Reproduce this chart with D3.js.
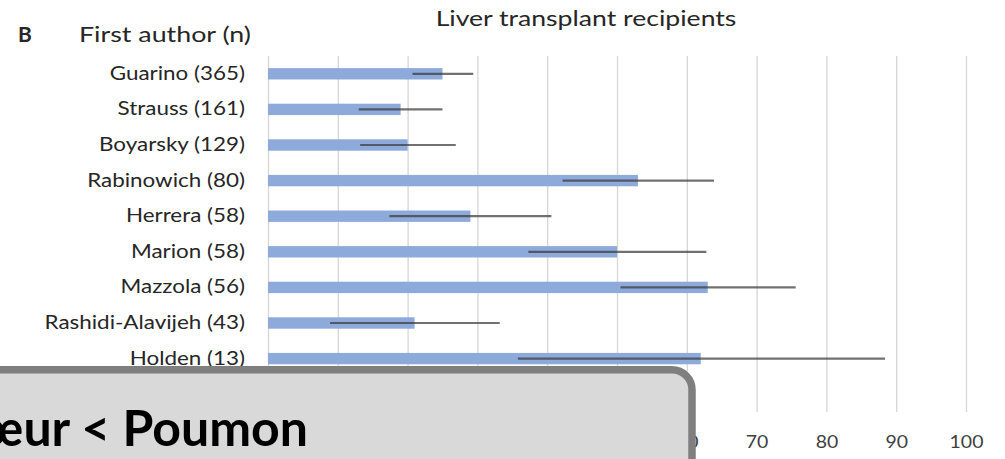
<!DOCTYPE html>
<html>
<head>
<meta charset="utf-8">
<script src="https://cdn.jsdelivr.net/npm/d3@7"></script>
<style>
  html, body { margin: 0; padding: 0; background: #fff; }
  svg { display: block; }
  text { font-family: Lato, "Noto Sans", sans-serif; }
</style>
</head>
<body>
<svg id="chart" width="1005" height="459"></svg>
<script>
// Studies of liver transplant recipients, first author with cohort size
const authors = [
  "Guarino (365)", "Strauss (161)", "Boyarsky (129)", "Rabinowich (80)",
  "Herrera (58)", "Marion (58)", "Mazzola (56)", "Rashidi-Alavijeh (43)", "Holden (13)"
];
// Point estimate (%) and its confidence interval
const estimate = [25, 19, 20, 53, 29, 50, 63, 21, 62];
const ciLow    = [20.7, 13.0, 13.2, 42.2, 17.4, 37.3, 50.5, 8.9, 35.8];
const ciHigh   = [29.4, 25.0, 26.9, 63.9, 40.6, 62.8, 75.6, 33.2, 88.4];
const xTicks   = [0, 10, 20, 30, 40, 50, 60, 70, 80, 90, 100];

const svg = d3.select("#chart");
const plot = { left: 268, right: 966, top: 56, bottom: 412 };

// widen glyphs horizontally around their anchor point
const widen = (sel, k) => sel.attr("transform", `scale(${k},1)`);
const label = (px, py, k, txt) => svg.append("text")
  .attr("transform", `translate(${px},${py}) scale(${k},1)`)
  .text(txt);

const x = d3.scaleLinear().domain([0, 100]).range([plot.left, plot.right]);
// one spare slot below the last study keeps the category spacing
const y = d3.scaleBand()
  .domain(authors.concat([""]))
  .range([plot.top, plot.bottom])
  .paddingInner(0.68)
  .paddingOuter(0.34);

const rows = authors.map((a, i) => ({ a, v: estimate[i], lo: ciLow[i], hi: ciHigh[i] }));

// vertical gridlines
svg.append("g")
  .attr("transform", `translate(0,${plot.bottom})`)
  .call(d3.axisBottom(x).tickValues(xTicks).tickSize(-(plot.bottom - plot.top)).tickFormat(""))
  .call(g => g.select(".domain").remove())
  .call(g => g.selectAll("line").attr("stroke", "#d6d6d6").attr("stroke-width", 1.3));

// x tick labels
svg.append("g")
  .attr("transform", `translate(0,${plot.bottom})`)
  .call(d3.axisBottom(x).tickValues(xTicks).tickSize(0).tickPadding(23))
  .call(g => g.select(".domain").remove())
  .call(g => g.selectAll("text")
    .attr("fill", "#404040")
    .style("font-size", "18px")
    .style("font-family", "Lato, sans-serif")
    .call(widen, 1.08));

// bars
svg.append("g").selectAll("rect").data(rows).join("rect")
  .attr("x", x(0))
  .attr("y", d => y(d.a))
  .attr("width", d => x(d.v) - x(0))
  .attr("height", y.bandwidth())
  .attr("fill", "#8eaadb");

// confidence intervals
svg.append("g").selectAll("line").data(rows).join("line")
  .attr("x1", d => x(d.lo))
  .attr("x2", d => x(d.hi))
  .attr("y1", d => y(d.a) + y.bandwidth() / 2)
  .attr("y2", d => y(d.a) + y.bandwidth() / 2)
  .attr("stroke", "#3a3a3a")
  .attr("stroke-opacity", 0.72)
  .attr("stroke-width", 2.2);

// category labels
svg.append("g")
  .attr("transform", `translate(${plot.left - 23},0)`)
  .call(d3.axisLeft(y).tickValues(authors).tickSize(0).tickPadding(0))
  .call(g => g.select(".domain").remove())
  .call(g => g.selectAll("text")
    .attr("fill", "#262626")
    .style("font-size", "19px")
    .style("font-family", "Lato, sans-serif")
    .call(widen, 1.18));

// headers
label(18, 42, 1.05, "B")
  .attr("fill", "#262626").style("font-size", "20px").style("font-weight", "bold");
label(79, 42, 1.22, "First author (n)")
  .attr("fill", "#262626").style("font-size", "22px");
label(586, 26, 1.21, "Liver transplant recipients")
  .attr("text-anchor", "middle")
  .attr("fill", "#262626").style("font-size", "22px");

// caption panel over the lower-left corner
svg.append("rect")
  .attr("x", -40).attr("y", 369.7)
  .attr("width", 732).attr("height", 140)
  .attr("rx", 20).attr("ry", 20)
  .attr("fill", "#d9d9d9")
  .attr("stroke", "#7f7f7f")
  .attr("stroke-width", 7.5);
label(308, 446, 1, "Cœur < Poumon")
  .attr("text-anchor", "end")
  .attr("fill", "#000")
  .style("font-size", "50px")
  .style("font-weight", "bold");
</script>
</body>
</html>
